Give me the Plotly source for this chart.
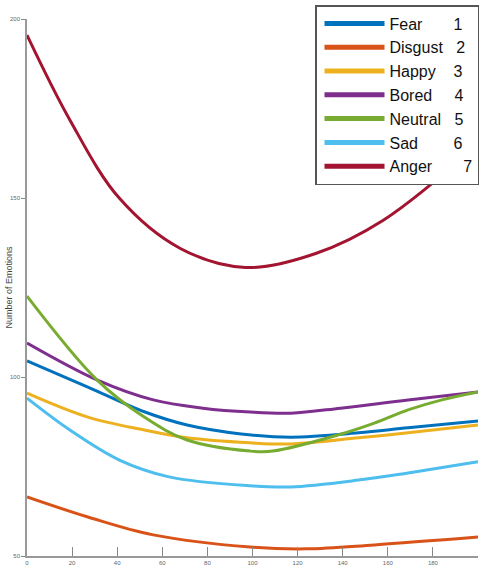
import plotly.graph_objects as go

# ---- data ----
emotions = ["Fear", "Disgust", "Happy", "Bored", "Neutral", "Sad", "Anger"]
codes = ["1", "2", "3", "4", "5", "6", "7"]
colors = ["#0072BD", "#D95319", "#EDB120", "#7E2F8E", "#77AC30", "#4DBEEE", "#A2142F"]

fear_x = [0, 27, 52, 71, 95, 117, 147, 169, 200]
fear_y = [104.5, 97.2, 90.3, 86.6, 84.1, 83.2, 84.4, 85.8, 87.7]

disgust_x = [0, 27, 56, 99, 124, 154, 200]
disgust_y = [66.5, 60.9, 55.9, 52.5, 52.0, 53.1, 55.3]

happy_x = [0, 27, 52, 71, 99, 117, 147, 169, 200]
happy_y = [95.5, 88.8, 85.2, 83.0, 81.6, 81.3, 83.0, 84.4, 86.6]

bored_x = [0, 31, 56, 78, 99, 117, 139, 169, 200]
bored_y = [109.5, 99.2, 93.6, 91.3, 90.2, 89.9, 91.3, 93.6, 95.8]

neutral_x = [0, 31, 52, 71, 99, 109, 139, 154, 169, 184, 200]
neutral_y = [122.6, 99.2, 88.8, 82.4, 79.3, 79.3, 84.0, 87.1, 90.8, 93.6, 95.8]

sad_x = [0, 19, 41, 63, 99, 117, 147, 169, 200]
sad_y = [94.1, 85.2, 76.8, 72.1, 69.6, 69.3, 71.2, 73.2, 76.3]

anger_x = [0, 19, 41, 68, 97, 128, 158, 200]
anger_y = [195.5, 171.8, 149.9, 135.9, 130.6, 134.5, 143.8, 165]

x_ticks = [0, 20, 40, 60, 80, 100, 120, 140, 160, 180]
y_ticks = [50, 100, 150, 200]
y_title = "Number of Emotions"

series = [(fear_x, fear_y), (disgust_x, disgust_y), (happy_x, happy_y),
          (bored_x, bored_y), (neutral_x, neutral_y), (sad_x, sad_y),
          (anger_x, anger_y)]
pad_spaces = [7, 3, 4, 5, 3, 8, 7]

fig = go.Figure()
for name, code, col, (xs, ys), n in zip(emotions, codes, colors, series, pad_spaces):
    fig.add_trace(go.Scatter(x=xs, y=ys, mode="lines",
                             line=dict(color=col, width=3, shape="spline", smoothing=1.0),
                             showlegend=False, hoverinfo="skip"))
    fig.add_trace(go.Scatter(x=[None], y=[None], mode="lines", line=dict(color=col, width=5),
                             name=name + "\u00a0" * n + code, showlegend=True))

fig.update_layout(
    width=479, height=569,
    margin=dict(l=27, r=1, t=19, b=13, autoexpand=False),
    paper_bgcolor="white", plot_bgcolor="white",
    font=dict(family="Liberation Sans, Arial, sans-serif", color="#222"),
    legend=dict(x=(315 - 27) / 451, y=(556 - 5) / 537, xanchor="left", yanchor="top",
                bgcolor="white", bordercolor="#555", borderwidth=1.5,
                font=dict(size=16, color="#111"), itemwidth=60, indentation=3,
                tracegroupgap=0),
    xaxis=dict(range=[0, 200], tickvals=x_ticks, ticks="inside", ticklen=9, tickcolor="#888",
               showline=True, linecolor="#999", linewidth=1.5, showgrid=False, zeroline=False,
               tickfont=dict(size=6, color="#666"), automargin=False),
    yaxis=dict(range=[50, 200], tickvals=y_ticks, ticks="outside", ticklen=4, tickcolor="#888",
               showline=True, linecolor="#999", linewidth=1.5, showgrid=False, zeroline=False,
               tickfont=dict(size=6, color="#666"), automargin=False),
    annotations=[dict(text=y_title, xref="paper", yref="paper", x=0, y=0.5,
                      xanchor="right", yanchor="middle", xshift=-12, textangle=-90,
                      showarrow=False, font=dict(size=9, color="#444"))],
)

fig.write_html("out.html", config={"displayModeBar": False},
               post_script="document.body.style.margin='0';")
